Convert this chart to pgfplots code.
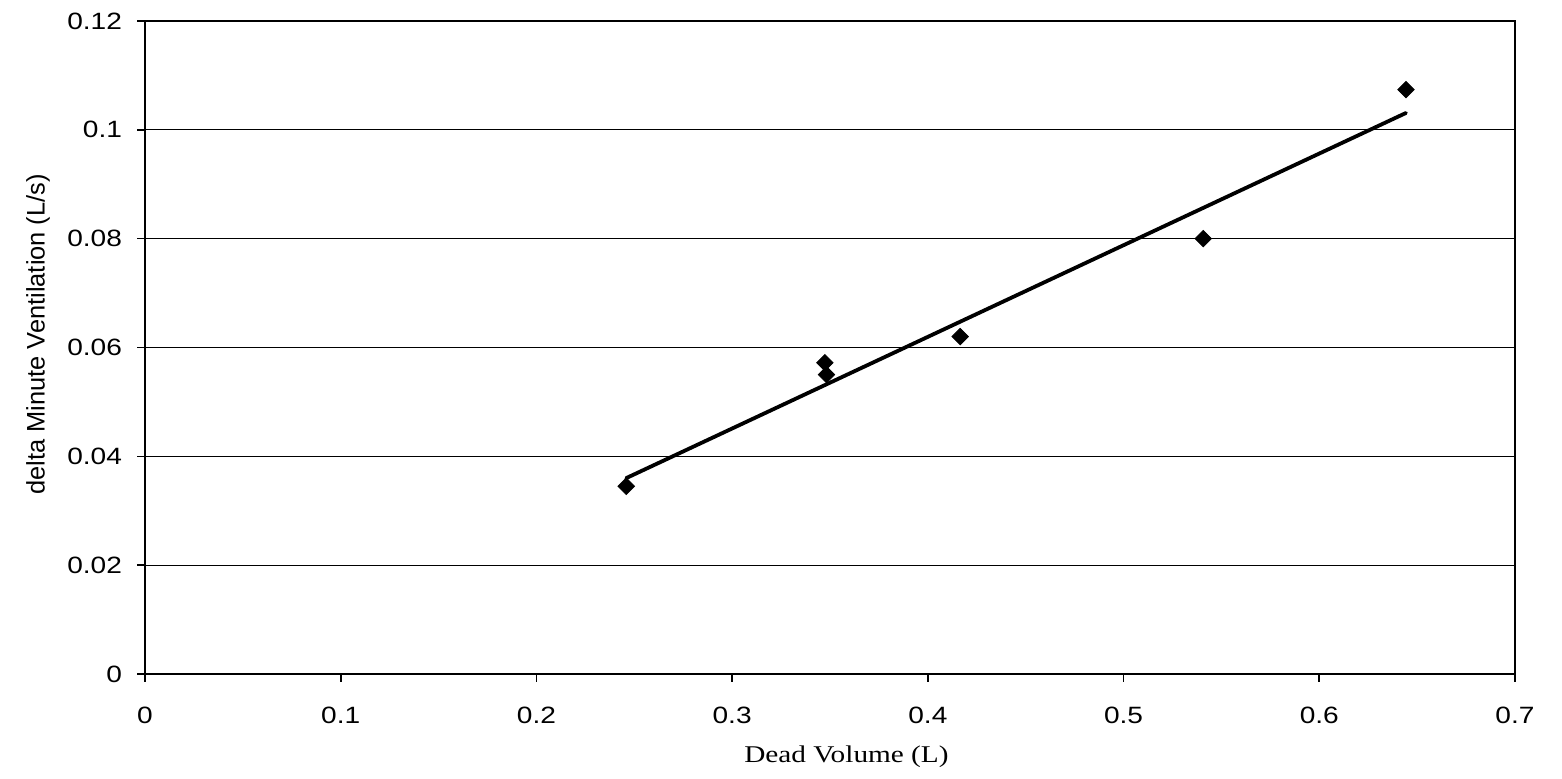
\documentclass[border=0pt]{standalone}
\usepackage{fontspec}
\usepackage{pgfplots}
\pgfplotsset{compat=1.18}
\setmainfont{Liberation Sans}
\newfontfamily\ticksans[FakeStretch=1.19]{Liberation Sans}
\newfontfamily\labelsans{Liberation Sans}
\newfontfamily\labelserif[FakeStretch=1.22]{Liberation Serif}

\begin{document}
\begin{tikzpicture}
\path[use as bounding box] (0pt,0pt) rectangle (781pt,389.5pt);
\begin{axis}[
  at={(72.5pt,52.5pt)}, anchor=south west,
  scale only axis, width=685pt, height=326.5pt,
  xmin=0, xmax=0.7, ymin=0, ymax=0.12,
  xtick={0,0.1,0.2,0.3,0.4,0.5,0.6,0.7},
  ytick={0,0.02,0.04,0.06,0.08,0.1,0.12},
  /pgf/number format/assume math mode=true,
  /pgf/number format/fixed, /pgf/number format/precision=2,
  scaled ticks=false,
  ymajorgrids,
  grid style={black, line width=0.65pt},
  axis line style={black, line width=0.9pt},
  tick align=outside, major tick length=4pt,
  tick style={black, line width=0.8pt},
  xtick pos=bottom, ytick pos=left,
  ticklabel style={font=\ticksans\fontsize{11.8}{14}\selectfont},
  xticklabel style={yshift=-9pt},
  yticklabel style={xshift=-4pt},
  xlabel={Dead Volume (L)},
  xlabel style={font=\labelserif\fontsize{12}{14}\selectfont,
    at={(axis description cs:0.512,-0.127)}, anchor=center},
  ylabel={delta Minute Ventilation (L/s)},
  ylabel style={font=\labelsans\fontsize{12.7}{15}\selectfont,
    at={(axis description cs:-0.078,0.52)}, anchor=center, rotate=0},
  clip=false,
]
% linear trend line
\addplot[black, line width=1.9pt, line cap=round] coordinates {
  (0.2459,0.0360) (0.6443,0.1031)
};
% measured points
\addplot[only marks, mark=square*, mark size=2.9pt,
  mark options={rotate=45, fill=black, draw=black}] coordinates {
  (0.2459,0.0345)
  (0.3474,0.0572)
  (0.3482,0.0550)
  (0.4165,0.0620)
  (0.5407,0.0800)
  (0.6443,0.1074)
};
\end{axis}
\end{tikzpicture}
\end{document}
